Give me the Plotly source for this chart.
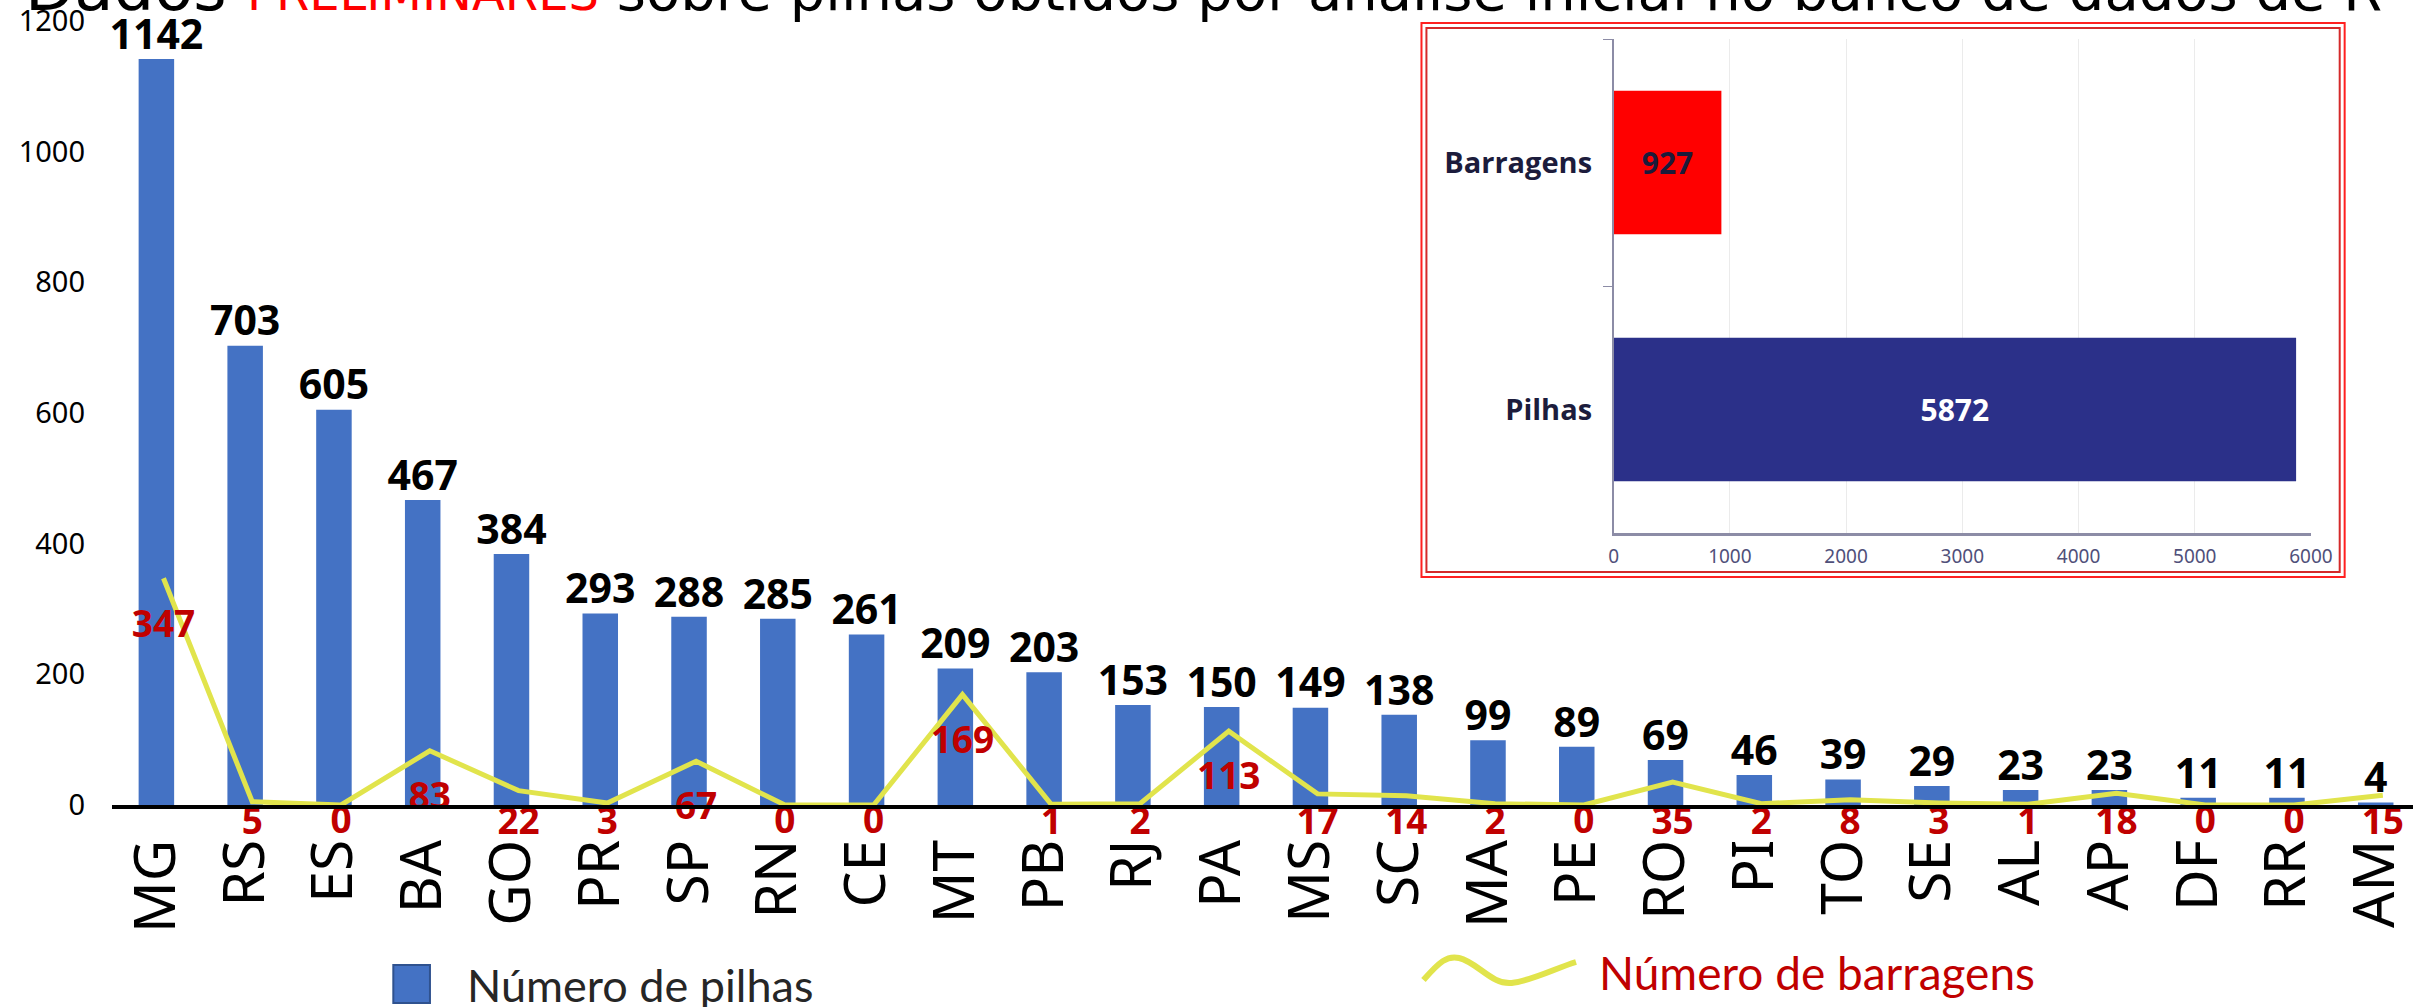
import plotly.graph_objects as go

estados = ["MG", "RS", "ES", "BA", "GO", "PR", "SP", "RN", "CE", "MT", "PB", "RJ", "PA",
           "MS", "SC", "MA", "PE", "RO", "PI", "TO", "SE", "AL", "AP", "DF", "RR", "AM"]
pilhas = [1142, 703, 605, 467, 384, 293, 288, 285, 261, 209, 203, 153, 150,
          149, 138, 99, 89, 69, 46, 39, 29, 23, 23, 11, 11, 4]
barragens = [347, 5, 0, 83, 22, 3, 67, 0, 0, 169, 1, 2, 113,
             17, 14, 2, 0, 35, 2, 8, 3, 1, 18, 0, 0, 15]

totais_labels = ["Barragens", "Pilhas"]
totais_valores = [927, 5872]

titulo = ("<span style='font-size:64px'>Dados </span>"
          "<span style='color:#FF0000;font-size:48px'>PRELIMINARES</span>"
          " sobre pilhas obtidos por análise inicial no banco de dados de R")

W, H = 2435, 1007
L, T, B = 112, 21, 202
PW, PH = W - L, H - T - B
X_RANGE = [-0.5, 25.42]
Y_RANGE = [0, 1200]
LINE_SHIFT = 0.08   # the line series sits a little right of the bar centres

BLUE = "#4472C4"
YELLOW = "#E1E44C"
DARK_RED = "#C00000"


def px(x):
    return (x - L) / PW


def py(y):
    return 1 - (y - T) / PH


# red labels sit a fixed distance under the line, but never above the axis
k = PH / (Y_RANGE[1] - Y_RANGE[0])
offsets = [min(32, 2.5 + v * k) for v in barragens]
label_sizes = [1.6 * (o - 2.5) for o in offsets]

fig = go.Figure()

fig.add_bar(
    x=estados, y=pilhas, marker_color=BLUE, marker_line_width=0,
    showlegend=False, hoverinfo="x+y",
)
fig.add_scatter(
    x=estados, y=barragens, mode="lines+markers+text", xaxis="x3",
    line=dict(color=YELLOW, width=5),
    marker=dict(size=label_sizes, color=YELLOW, opacity=0, line=dict(width=0)),
    text=[str(v) for v in barragens], textposition="bottom center",
    textfont=dict(family="Open Sans", size=37, color=DARK_RED, weight="bold"),
    cliponaxis=False, showlegend=False,
)
fig.add_scatter(
    x=estados, y=pilhas, mode="text",
    text=[str(v) for v in pilhas], textposition="top center",
    textfont=dict(family="Open Sans", size=41, color="black", weight="bold"),
    cliponaxis=False, showlegend=False, hoverinfo="skip",
)

# inset: totals
fig.add_bar(
    x=totais_valores, y=totais_labels, orientation="h", width=0.58,
    xaxis="x2", yaxis="y2",
    marker_color=["#FF0000", "#2B3089"], marker_line_width=0,
    text=[str(v) for v in totais_valores], textposition="inside",
    insidetextanchor="middle", constraintext="none",
    textfont=dict(family="Open Sans", size=30, color=["#1B1B3B", "white"], weight="bold"),
    showlegend=False,
)

fig.update_layout(
    width=W, height=H,
    margin=dict(l=L, r=0, t=T, b=B),
    paper_bgcolor="white", plot_bgcolor="white",
    bargap=0.6,
    font=dict(family="Noto Sans", color="black"),
    xaxis=dict(
        type="category", range=X_RANGE, tickangle=-90,
        showline=True, linecolor="black", linewidth=4, showgrid=False,
        ticks="", ticklabelstandoff=8,
        tickfont=dict(family="Noto Sans", size=57, color="black"),
    ),
    xaxis3=dict(
        type="category", overlaying="x", anchor="y",
        range=[X_RANGE[0] - LINE_SHIFT, X_RANGE[1] - LINE_SHIFT],
        visible=False,
    ),
    yaxis=dict(
        range=Y_RANGE, dtick=200, showgrid=False, zeroline=False,
        showline=False, ticks="", ticklabelstandoff=26,
        tickfont=dict(family="Noto Sans", size=29, color="black"),
    ),
    xaxis2=dict(
        domain=[px(1628), px(2332)], anchor="y2", range=[0, 6000], dtick=1000,
        showgrid=True, gridcolor="#EBEBEB", gridwidth=1, zeroline=False,
        showline=True, linecolor="#8C8CA6", linewidth=2.5, ticks="",
        ticklabelstandoff=4,
        tickfont=dict(family="Noto Sans", size=19, color="#50507A"),
    ),
    yaxis2=dict(
        domain=[py(533), py(39)], anchor="x2", type="category",
        autorange="reversed", showgrid=False, zeroline=False,
        showline=True, linecolor="#8C8CA6", linewidth=1.5,
        ticks="outside", tickson="boundaries", ticklen=9, tickcolor="#8C8CA6",
        ticklabelstandoff=14,
        tickfont=dict(family="Open Sans", size=29, color="#1C1C3C", weight="bold"),
    ),
    shapes=[
        dict(type="rect", xref="paper", yref="paper", layer="below",
             x0=px(1434), x1=px(2366), y0=py(577), y1=py(23),
             line=dict(color="#FF2020", width=2), fillcolor="white"),
        dict(type="rect", xref="paper", yref="paper", layer="below",
             x0=px(1439), x1=px(2361), y0=py(572), y1=py(28),
             line=dict(color="#D42A2A", width=2)),
        dict(type="rect", xref="paper", yref="paper",
             x0=px(396), x1=px(433), y0=py(1003), y1=py(965),
             line=dict(color="#2F528F", width=2), fillcolor=BLUE),
        dict(type="path", xref="paper", yref="paper",
             path=(f"M {px(1436)},{py(980)} "
                   f"C {px(1452)},{py(962)} {px(1460)},{py(955)} {px(1472)},{py(958)} "
                   f"C {px(1490)},{py(962)} {px(1505)},{py(985)} {px(1525)},{py(983)} "
                   f"C {px(1545)},{py(981)} {px(1570)},{py(968)} {px(1590)},{py(962)}"),
             line=dict(color=YELLOW, width=6)),
    ],
    annotations=[
        dict(text=titulo, xref="paper", yref="paper", x=px(22), y=py(27),
             xanchor="left", yanchor="bottom", showarrow=False,
             font=dict(family="DejaVu Sans", size=56, color="black")),
        dict(text="Número de pilhas", xref="paper", yref="paper",
             x=px(468), y=py(985), xanchor="left", yanchor="middle", showarrow=False,
             font=dict(family="Lato", size=45, color="#262626")),
        dict(text="Número de barragens", xref="paper", yref="paper",
             x=px(1611), y=py(973), xanchor="left", yanchor="middle", showarrow=False,
             font=dict(family="Lato", size=46, color=DARK_RED)),
    ],
)

fig.write_html("out.html", config={"displayModeBar": False},
               post_script="document.body.style.margin = '0';")
